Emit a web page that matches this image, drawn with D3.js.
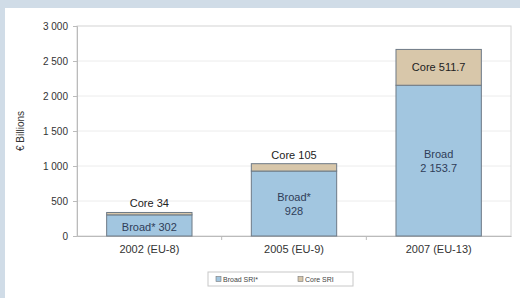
<!DOCTYPE html>
<html>
<head>
<meta charset="utf-8">
<script src="https://cdn.jsdelivr.net/npm/d3@7"></script>
<style>
  html, body { margin: 0; padding: 0; background: #d0dce7; }
  svg { display: block; }
</style>
</head>
<body>
<div id="chart"></div>
<script>
// values
const categories = ['2002 (EU-8)', '2005 (EU-9)', '2007 (EU-13)'];
const broad = [302, 928, 2153.7];
const core = [34, 105, 511.7];
const broadLabels = [['Broad* 302'], ['Broad*', '928'], ['Broad', '2 153.7']];
const coreLabels = ['Core 34', 'Core 105', 'Core 511.7'];
const yTicks = [0, 500, 1000, 1500, 2000, 2500, 3000];
const legendNames = ['Broad SRI*', 'Core SRI'];

window.addEventListener('DOMContentLoaded', function() {
  const width = 520, height = 298;
  const blue = '#a2c6e0', tan = '#d8c7aa';
  const font = 'Liberation Sans, Arial, sans-serif';

  const svg = d3.select('#chart')
    .append('svg')
    .attr('width', width)
    .attr('height', height)
    .style('font-family', font);

  // white panel
  svg.append('rect')
    .attr('x', 5).attr('y', 8)
    .attr('width', width - 5).attr('height', height - 8)
    .attr('fill', '#fff');

  const plot = { left: 77, right: 511, top: 26, bottom: 236 };

  const x = d3.scaleBand()
    .domain(categories)
    .range([plot.left, plot.right])
    .paddingInner(0.41)
    .paddingOuter(0.205);

  const y = d3.scaleLinear()
    .domain([0, 3000])
    .range([plot.bottom, plot.top]);

  const fmt = v => d3.format(',')(v).replace(/,/g, ' ');

  // gridlines
  svg.append('g')
    .selectAll('line')
    .data(yTicks.filter(t => t > 0 && t < 3000))
    .join('line')
    .attr('x1', plot.left).attr('x2', plot.right)
    .attr('y1', d => y(d)).attr('y2', d => y(d))
    .attr('stroke', '#ececec');

  // plot border
  svg.append('rect')
    .attr('x', plot.left).attr('y', plot.top)
    .attr('width', plot.right - plot.left)
    .attr('height', plot.bottom - plot.top)
    .attr('fill', 'none')
    .attr('stroke', '#d4d4d4');

  // y axis
  const yAxis = svg.append('g')
    .attr('transform', `translate(${plot.left},0)`)
    .call(d3.axisLeft(y).tickValues(yTicks).tickFormat(fmt).tickSize(4).tickPadding(5));
  yAxis.select('.domain').attr('stroke', '#bbb');
  yAxis.selectAll('.tick line').attr('stroke', '#bbb');
  yAxis.selectAll('text').attr('fill', '#333').style('font-size', '10px').style('font-family', font);

  // x axis
  const xAxis = svg.append('g')
    .attr('transform', `translate(0,${plot.bottom})`)
    .call(d3.axisBottom(x).tickSize(0).tickPadding(9));
  xAxis.select('.domain').attr('stroke', '#bbb');
  xAxis.selectAll('text').attr('fill', '#333').style('font-size', '11px').style('font-family', font);
  // category boundary ticks
  svg.append('g')
    .selectAll('line')
    .data(categories.slice(1))
    .join('line')
    .attr('x1', d => x(d) - x.step() * x.paddingInner() / 2)
    .attr('x2', d => x(d) - x.step() * x.paddingInner() / 2)
    .attr('y1', plot.bottom).attr('y2', plot.bottom + 4)
    .attr('stroke', '#bbb');

  // y title
  svg.append('text')
    .attr('transform', 'translate(24,131) rotate(-90)')
    .attr('text-anchor', 'middle')
    .attr('fill', '#333')
    .style('font-size', '10px')
    .text('€ Billions');

  const bars = svg.append('g');

  // broad segments
  bars.selectAll('rect.broad')
    .data(categories)
    .join('rect')
    .attr('class', 'broad')
    .attr('x', d => x(d))
    .attr('width', x.bandwidth())
    .attr('y', (d, i) => y(broad[i]))
    .attr('height', (d, i) => y(0) - y(broad[i]))
    .attr('fill', blue)
    .attr('stroke', '#6e7a86')
    .attr('stroke-width', 1);

  // core segments
  bars.selectAll('rect.core')
    .data(categories)
    .join('rect')
    .attr('class', 'core')
    .attr('x', d => x(d))
    .attr('width', x.bandwidth())
    .attr('y', (d, i) => y(broad[i] + core[i]))
    .attr('height', (d, i) => y(broad[i]) - y(broad[i] + core[i]))
    .attr('fill', tan)
    .attr('stroke', '#6e7a86')
    .attr('stroke-width', 1);

  // broad labels
  categories.forEach((c, i) => {
    const lines = broadLabels[i];
    const mid = (y(broad[i]) + y(0)) / 2 + (lines.length === 1 ? 2 : 0);
    const t = svg.append('text')
      .attr('text-anchor', 'middle')
      .attr('fill', '#2f3d58')
      .style('font-size', '11px');
    lines.forEach((l, j) => {
      t.append('tspan')
        .attr('x', x(c) + x.bandwidth() / 2)
        .attr('y', mid + (j - (lines.length - 1) / 2) * 14 + 4)
        .text(l);
    });
  });

  // core labels: inside when there is room, otherwise above
  categories.forEach((c, i) => {
    const top = y(broad[i] + core[i]);
    const h = y(broad[i]) - top;
    const ty = h > 20 ? top + h / 2 + 4 : top - 5;
    svg.append('text')
      .attr('x', x(c) + x.bandwidth() / 2)
      .attr('y', ty)
      .attr('text-anchor', 'middle')
      .attr('fill', '#222')
      .style('font-size', '11px')
      .text(coreLabels[i]);
  });

  // legend
  const lg = svg.append('g').attr('transform', 'translate(208,272)');
  lg.append('rect')
    .attr('width', 145).attr('height', 14)
    .attr('fill', '#fff').attr('stroke', '#c8c8c8');
  const items = lg.selectAll('g.item')
    .data(legendNames)
    .join('g')
    .attr('transform', (d, i) => `translate(${8 + i * 82},7)`);
  items.append('rect')
    .attr('x', 0).attr('y', -2.5)
    .attr('width', 5).attr('height', 5)
    .attr('fill', (d, i) => i === 0 ? blue : tan)
    .attr('stroke', '#777').attr('stroke-width', 0.6);
  items.append('text')
    .attr('x', 7).attr('y', 2.5)
    .attr('fill', '#444')
    .style('font-size', '7px')
    .text(d => d);
});
</script>
</body>
</html>
